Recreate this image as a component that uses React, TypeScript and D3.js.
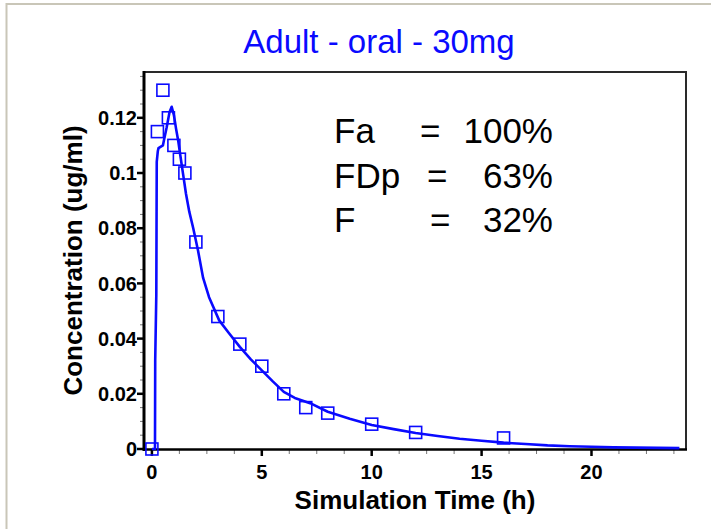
import React, { useEffect, useRef } from "react";
import * as d3 from "d3";

// Observed plasma concentrations (h, ug/ml)
const obsTime = [0, 0.25, 0.5, 0.75, 1, 1.25, 1.5, 2, 3, 4, 5, 6, 7, 8, 10, 12, 16];
const obsConc = [0, 0.115, 0.13, 0.12, 0.11, 0.105, 0.1, 0.075, 0.048, 0.038, 0.03, 0.02, 0.015, 0.013, 0.009, 0.006, 0.004];

// Simulated concentration-time profile
const simTime = [0, 0.14, 0.15, 0.2, 0.21, 0.22, 0.27, 0.3, 0.5, 0.55, 0.67, 0.8, 0.9, 1.0, 1.1, 1.2, 1.3, 1.42, 1.55, 1.7, 1.88, 2.1, 2.33, 2.6, 3.06, 3.5, 4, 4.5, 5, 5.5, 6, 6.5, 7.2, 8, 9, 10, 11, 12, 13, 14, 15, 16, 17, 18, 19, 20, 21, 22, 23, 24];
const simConc = [0, 0, 0.032, 0.056, 0.08, 0.104, 0.108, 0.109, 0.11, 0.112, 0.1165, 0.122, 0.124, 0.121, 0.116, 0.1115, 0.106, 0.0995, 0.0925, 0.086, 0.08, 0.0718, 0.062, 0.055, 0.0466, 0.042, 0.037, 0.0325, 0.0285, 0.0245, 0.0207, 0.0185, 0.0166, 0.0135, 0.011, 0.0087, 0.0072, 0.0058, 0.0047, 0.0037, 0.003, 0.0023, 0.0018, 0.0013, 0.001, 0.0008, 0.0006, 0.0005, 0.0004, 0.0003];

const xTicks = [0, 5, 10, 15, 20];
const yTicks = [0, 0.02, 0.04, 0.06, 0.08, 0.1, 0.12];
const yTickLabels = ["0", "0.02", "0.04", "0.06", "0.08", "0.1", "0.12"];

const titleText = "Adult - oral - 30mg";
const xTitle = "Simulation Time (h)";
const yTitle = "Concentration (ug/ml)";

const factorNames = ["Fa", "FDp", "F"];
const factorValues = ["100%", "63%", "32%"];

const W = 711;
const H = 529;
const left = 144, right = 686, top = 72, bottom = 449;
const BLUE = "#0a0aff";

export default function App() {
  const ref = useRef<SVGSVGElement>(null);

  useEffect(() => {
    const svg = d3.select(ref.current);
    svg.selectAll("*").remove();

    const x = d3.scaleLinear().domain([-0.36, 24.3]).range([left, right]);
    const y = d3.scaleLinear().domain([0, 0.1366]).range([bottom, top]);

    // page frame
    svg.append("line").attr("x1", 6.5).attr("x2", 6.5).attr("y1", 3).attr("y2", H)
      .attr("stroke", "#c9c6b8").attr("stroke-width", 2);
    svg.append("line").attr("x1", 6).attr("x2", W).attr("y1", 4).attr("y2", 4)
      .attr("stroke", "#c9c6b8").attr("stroke-width", 2);

    // title
    svg.append("text").attr("x", 379).attr("y", 53).attr("text-anchor", "middle")
      .attr("font-family", "Liberation Sans, Arial, sans-serif").attr("font-size", 33)
      .attr("fill", BLUE).text(titleText);

    // plot frame (top/right)
    svg.append("path")
      .attr("d", `M${left},${top}H${right}V${bottom + 1}`)
      .attr("fill", "none").attr("stroke", "#2a2a2a").attr("stroke-width", 2);

    // x minor ticks
    const xMinor = d3.range(0, 24.01, 1.25).filter(v => !xTicks.includes(v));
    svg.append("g").selectAll("line").data(xMinor).join("line")
      .attr("x1", d => x(d)).attr("x2", d => x(d))
      .attr("y1", bottom + 1).attr("y2", bottom + 5)
      .attr("stroke", "#777").attr("stroke-width", 1);
    // x major ticks
    svg.append("g").selectAll("line").data(xTicks).join("line")
      .attr("x1", d => x(d)).attr("x2", d => x(d))
      .attr("y1", bottom + 1).attr("y2", bottom + 7)
      .attr("stroke", "#000").attr("stroke-width", 2.5);
    svg.append("g").selectAll("text").data(xTicks).join("text")
      .attr("x", d => x(d)).attr("y", 479).attr("text-anchor", "middle")
      .attr("font-family", "Liberation Sans, Arial, sans-serif").attr("font-weight", "bold")
      .attr("font-size", 20).attr("fill", "#000").text(d => String(d));

    // y minor ticks
    const yMinor = d3.range(0.005, 0.136, 0.005).filter(v => Math.abs(Math.round(v / 0.02) * 0.02 - v) > 1e-6);
    svg.append("g").selectAll("line").data(yMinor).join("line")
      .attr("x1", left - 4).attr("x2", left)
      .attr("y1", d => y(d)).attr("y2", d => y(d))
      .attr("stroke", "#777").attr("stroke-width", 1);
    svg.append("g").selectAll("line").data(yTicks).join("line")
      .attr("x1", left - 7).attr("x2", left)
      .attr("y1", d => y(d)).attr("y2", d => y(d))
      .attr("stroke", "#000").attr("stroke-width", 2.5);
    svg.append("g").selectAll("text").data(yTicks).join("text")
      .attr("x", 137).attr("y", d => y(d)).attr("dy", "0.36em").attr("text-anchor", "end")
      .attr("font-family", "Liberation Sans, Arial, sans-serif").attr("font-weight", "bold")
      .attr("font-size", 20).attr("fill", "#000").text((d, i) => yTickLabels[i]);

    // axes
    svg.append("line").attr("x1", left).attr("x2", left).attr("y1", top - 1).attr("y2", bottom + 2)
      .attr("stroke", "#000").attr("stroke-width", 3);
    svg.append("line").attr("x1", left - 1).attr("x2", right + 1).attr("y1", bottom + 0.5).attr("y2", bottom + 0.5)
      .attr("stroke", "#000").attr("stroke-width", 2.5);

    // axis titles
    svg.append("text").attr("x", (left + right) / 2).attr("y", 509).attr("text-anchor", "middle")
      .attr("font-family", "Liberation Sans, Arial, sans-serif").attr("font-weight", "bold")
      .attr("font-size", 26).attr("fill", "#000").text(xTitle);
    svg.append("text").attr("transform", `translate(82,${(top + bottom) / 2}) rotate(-90)`)
      .attr("text-anchor", "middle")
      .attr("font-family", "Liberation Sans, Arial, sans-serif").attr("font-weight", "bold")
      .attr("font-size", 26).attr("fill", "#000").text(yTitle);

    // simulated line
    const line = d3.line<number>().x((d, i) => x(simTime[i])).y(d => y(d));
    svg.append("path").datum(simConc).attr("d", line)
      .attr("fill", "none").attr("stroke", BLUE).attr("stroke-width", 2.6)
      .attr("stroke-linejoin", "round");

    // observed squares
    const s = 12;
    svg.append("g").selectAll("rect").data(obsConc).join("rect")
      .attr("x", (d, i) => x(obsTime[i]) - s / 2).attr("y", d => y(d) - s / 2)
      .attr("width", s).attr("height", s)
      .attr("fill", "none").attr("stroke", BLUE).attr("stroke-width", 1.6);

    // bioavailability annotations
    const baselines = [143, 188, 232];
    const eqX = [420, 427, 430];
    const g = svg.append("g").attr("font-family", "Liberation Sans, Arial, sans-serif")
      .attr("font-size", 35).attr("fill", "#000");
    factorNames.forEach((n, i) => {
      g.append("text").attr("x", 334).attr("y", baselines[i]).text(n);
      g.append("text").attr("x", eqX[i]).attr("y", baselines[i]).text("=");
      g.append("text").attr("x", 553).attr("y", baselines[i]).attr("text-anchor", "end").text(factorValues[i]);
    });
  }, []);

  return (
    <svg ref={ref} width={W} height={H}
      style={{ position: "absolute", left: 0, top: 0, background: "#fff" }} />
  );
}
